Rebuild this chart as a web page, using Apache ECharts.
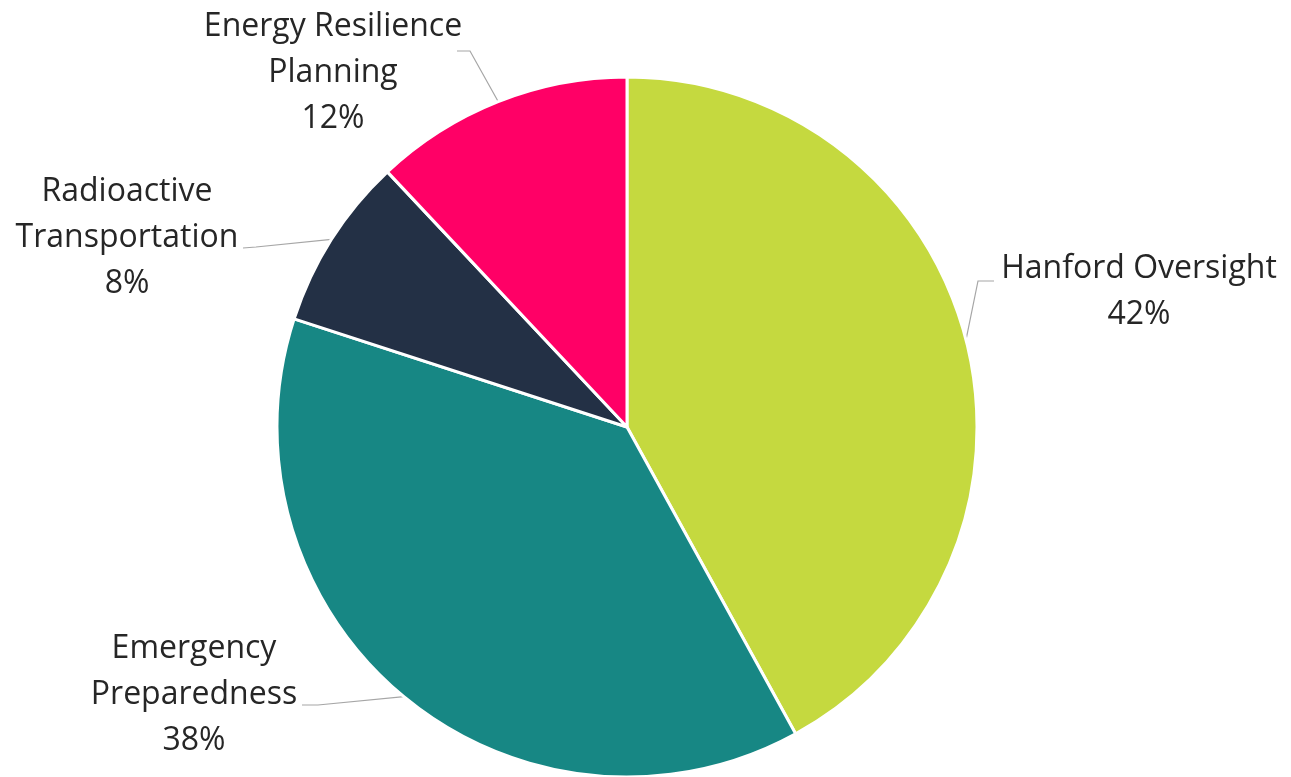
<!DOCTYPE html>
<html>
<head>
<meta charset="utf-8">
<script src="https://cdn.jsdelivr.net/npm/echarts@6/dist/echarts.min.js"></script>
<style>
  html, body { margin: 0; padding: 0; background: #fff; }
  #chart { width: 1291px; height: 777px; }
</style>
</head>
<body>
<div id="chart"></div>
<script>
// program areas, clockwise from 12 o'clock
var categories = ['Hanford Oversight', 'Emergency\nPreparedness', 'Radioactive\nTransportation', 'Energy Resilience\nPlanning'];
var shares = [42, 38, 8, 12];
var colors = ['#c5d93f', '#178784', '#233045', '#ff0066'];

// label block centres and the leader line bend/end points
var labelSpots = [[1139, 292], [194, 695], [127, 238], [333, 73]];
var leaderTails = [
    [[978, 281], [994, 281]],
    [[318, 705], [302, 705]],
    [[256, 247], [243, 248]],
    [[470, 51], [457, 51]]
];

var myChart = echarts.init(document.getElementById('chart'));

var option = {
    backgroundColor: '#fff',
    animation: false,
    series: [{
        type: 'pie',
        center: [627, 427],
        radius: 350,
        startAngle: 90,
        clockwise: true,
        data: categories.map(function(name, i) {
            return { name: name, value: shares[i], itemStyle: { color: colors[i] } };
        }),
        itemStyle: {
            borderColor: '#fff',
            borderWidth: 3
        },
        label: {
            show: true,
            position: 'outside',
            formatter: function(p) { return p.name + '\n' + p.value + '%'; },
            fontFamily: 'Open Sans',
            fontSize: 32,
            lineHeight: 46,
            color: '#262626',
            align: 'center'
        },
        labelLine: {
            show: true,
            length: 20,
            length2: 10,
            lineStyle: { color: '#a6a6a6', width: 1.2 }
        },
        labelLayout: function(params) {
            var i = params.dataIndex;
            var s = labelSpots[i];
            var pts = [params.labelLinePoints[0]].concat(leaderTails[i]);
            return { x: s[0], y: s[1], align: 'center', verticalAlign: 'middle', labelLinePoints: pts };
        }
    }]
};

myChart.setOption(option);
</script>
</body>
</html>
